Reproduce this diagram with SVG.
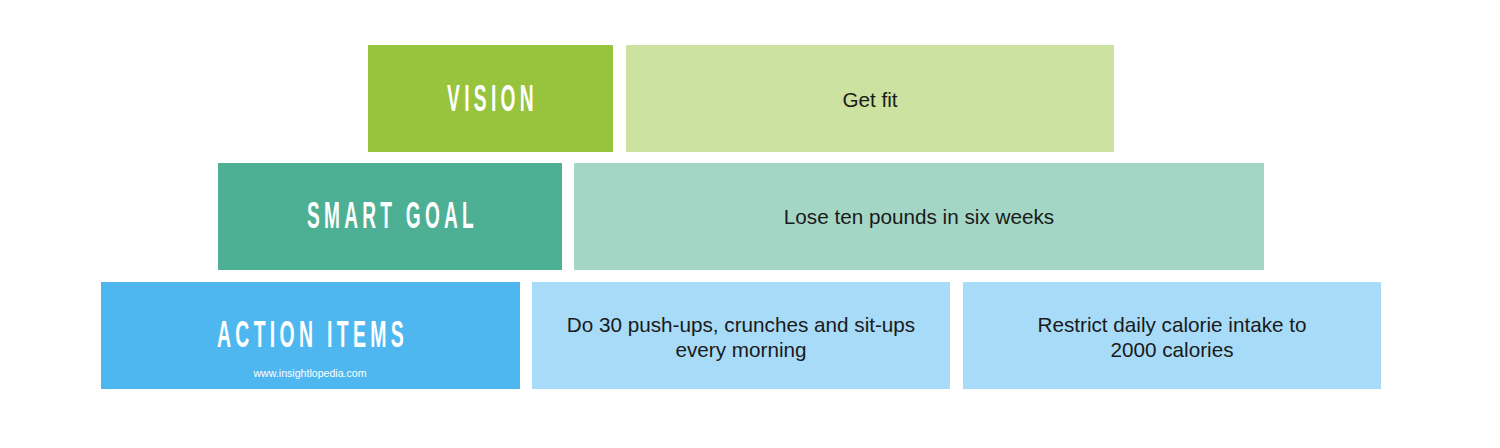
<svg xmlns="http://www.w3.org/2000/svg" width="1500" height="448" viewBox="0 0 1500 448">
<style>
.hd{font-family:"Liberation Sans",Arial,sans-serif;font-weight:bold;font-size:36px;fill:#ffffff;letter-spacing:8px}
.bt{font-family:"Liberation Sans",Arial,sans-serif;font-size:20.7px;fill:#1a1a1a;text-anchor:middle}
.url{font-family:"Liberation Sans",Arial,sans-serif;font-size:10.6px;fill:#ffffff;text-anchor:middle}
</style>
<rect width="1500" height="448" fill="#ffffff"/>
<g id="vision">
<rect x="368" y="45" width="245" height="107" fill="#97c33d"/>
<text class="hd" x="447" y="111" textLength="91" lengthAdjust="spacingAndGlyphs">VISION</text>
</g>
<g id="vision-text">
<rect x="626" y="45" width="488" height="107" fill="#cce2a0"/>
<text class="bt" x="870" y="107">Get fit</text>
</g>
<g id="smart-goal">
<rect x="218" y="163" width="344" height="107" fill="#4daf93"/>
<text class="hd" x="307" y="228" textLength="171" lengthAdjust="spacingAndGlyphs">SMART GOAL</text>
</g>
<g id="smart-goal-text">
<rect x="574" y="163" width="690" height="107" fill="#a4d6c6"/>
<text class="bt" x="919" y="224">Lose ten pounds in six weeks</text>
</g>
<g id="action-items">
<rect x="101" y="282" width="419" height="107" fill="#4fb7ef"/>
<text class="hd" x="217" y="347" textLength="191" lengthAdjust="spacingAndGlyphs">ACTION ITEMS</text>
<text class="url" x="310" y="377">www.insightlopedia.com</text>
</g>
<g id="action-1">
<rect x="532" y="282" width="418" height="107" fill="#a7dbf7"/>
<text class="bt" x="741" y="332">Do 30 push-ups, crunches and sit-ups</text>
<text class="bt" x="741" y="357">every morning</text>
</g>
<g id="action-2">
<rect x="963" y="282" width="418" height="107" fill="#a7dbf7"/>
<text class="bt" x="1172" y="332">Restrict daily calorie intake to</text>
<text class="bt" x="1172" y="357">2000 calories</text>
</g>
<g id="connectors"/>
</svg>
